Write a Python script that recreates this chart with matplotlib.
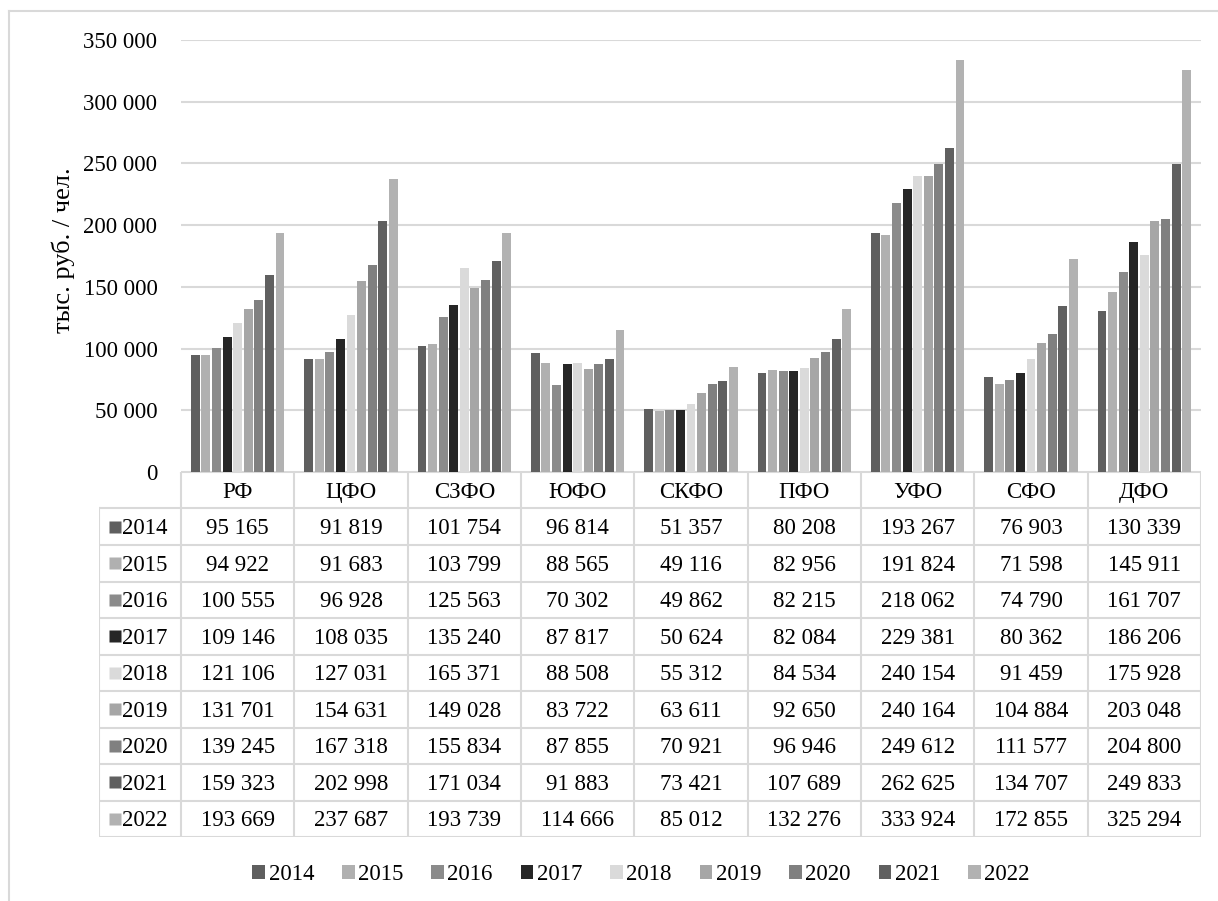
import matplotlib
matplotlib.use("Agg")
import matplotlib.pyplot as plt
from matplotlib.lines import Line2D
from matplotlib.patches import Patch

plt.rcParams['font.family'] = ['Liberation Serif', 'DejaVu Serif']

regions = ['РФ', 'ЦФО', 'СЗФО', 'ЮФО', 'СКФО', 'ПФО', 'УФО', 'СФО', 'ДФО']
years = ['2014', '2015', '2016', '2017', '2018', '2019', '2020', '2021', '2022']

# значения по годам, порядок округов как в regions
v2014 = [95165, 91819, 101754, 96814, 51357, 80208, 193267, 76903, 130339]
v2015 = [94922, 91683, 103799, 88565, 49116, 82956, 191824, 71598, 145911]
v2016 = [100555, 96928, 125563, 70302, 49862, 82215, 218062, 74790, 161707]
v2017 = [109146, 108035, 135240, 87817, 50624, 82084, 229381, 80362, 186206]
v2018 = [121106, 127031, 165371, 88508, 55312, 84534, 240154, 91459, 175928]
v2019 = [131701, 154631, 149028, 83722, 63611, 92650, 240164, 104884, 203048]
v2020 = [139245, 167318, 155834, 87855, 70921, 96946, 249612, 111577, 204800]
v2021 = [159323, 202998, 171034, 91883, 73421, 107689, 262625, 134707, 249833]
v2022 = [193669, 237687, 193739, 114666, 85012, 132276, 333924, 172855, 325294]
series = [v2014, v2015, v2016, v2017, v2018, v2019, v2020, v2021, v2022]

colors = ['#5f5f5f', '#b0b0b0', '#8b8b8b', '#262626', '#dadada',
          '#a6a6a6', '#808080', '#606060', '#b2b2b2']

W, H = 1218, 901
fs = 16.5
grid_c = '#d9d9d9'


def fmt(v):
    return f"{v:,}".replace(',', ' ')


fig = plt.figure(figsize=(W / 100, H / 100), dpi=100)

# рамка области диаграммы
fig.add_artist(Line2D([9 / W, 1], [1 - 11 / H, 1 - 11 / H], color=grid_c, lw=1.5))
fig.add_artist(Line2D([9 / W, 9 / W], [0, 1 - 11 / H], color=grid_c, lw=1.5))

# гистограмма
x0, x1, y_top, y_axis = 181, 1201, 40, 472
ax = fig.add_axes([x0 / W, 1 - y_axis / H, (x1 - x0) / W, (y_axis - y_top) / H])
slot = 0.0934
bw = 0.078
for j, vals in enumerate(series):
    xs = [i + 0.5 + (j - 4) * slot for i in range(len(regions))]
    ax.bar(xs, vals, width=bw, color=colors[j], zorder=3)

ax.set_xlim(0, 9)
ax.set_ylim(0, 350000)
yt = list(range(0, 350001, 50000))
ax.set_yticks(yt)
ax.set_yticklabels([fmt(t) for t in yt], fontsize=fs)
ax.tick_params(axis='y', length=0, pad=17)
ax.set_xticks([])
ax.grid(axis='y', color=grid_c, lw=1.5, zorder=0)
for s in ax.spines.values():
    s.set_visible(False)

fig.text(63 / W, 1 - 250 / H, 'тыс. руб. / чел.', rotation=90,
         ha='center', va='center', fontsize=19)

# таблица данных
t_left, t_bottom = 99, 837
tab = fig.add_axes([t_left / W, 1 - t_bottom / H, (x1 - t_left) / W, (t_bottom - y_axis) / H])
cat_w = (x1 - x0) / 9
lx = -(x0 - t_left) / cat_w
tab.set_xlim(lx, 9)
tab.set_ylim(10, 0)
tab.axis('off')

lw_t = 1.5
tab.plot([0, 9], [0, 0], color=grid_c, lw=lw_t)
for r in range(1, 11):
    tab.plot([lx, 9], [r, r], color=grid_c, lw=lw_t)
tab.plot([lx, lx], [1, 10], color=grid_c, lw=lw_t)
for c in range(10):
    tab.plot([c, c], [0, 10], color=grid_c, lw=lw_t)

for i, name in enumerate(regions):
    tab.text(i + 0.5, 0.55, name, ha='center', va='center', fontsize=fs)

for j, vals in enumerate(series):
    yc = j + 1.55
    tab.plot([lx + 16 / cat_w], [j + 1.5], marker='s', ms=8, color=colors[j], mec='none')
    tab.text(lx + 23 / cat_w, yc, years[j], ha='left', va='center', fontsize=fs)
    for i, v in enumerate(vals):
        tab.text(i + 0.5, yc, fmt(v), ha='center', va='center', fontsize=fs)

# легенда
handles = [Patch(facecolor=colors[j], edgecolor='none', label=years[j]) for j in range(9)]
fig.legend(handles=handles, loc='center', bbox_to_anchor=(641 / W, 1 - 875 / H),
           ncol=9, frameon=False, fontsize=fs, handlelength=0.55, handleheight=0.55,
           handletextpad=0.15, columnspacing=1.22, borderaxespad=0)

fig.savefig('out.png', dpi=100)
